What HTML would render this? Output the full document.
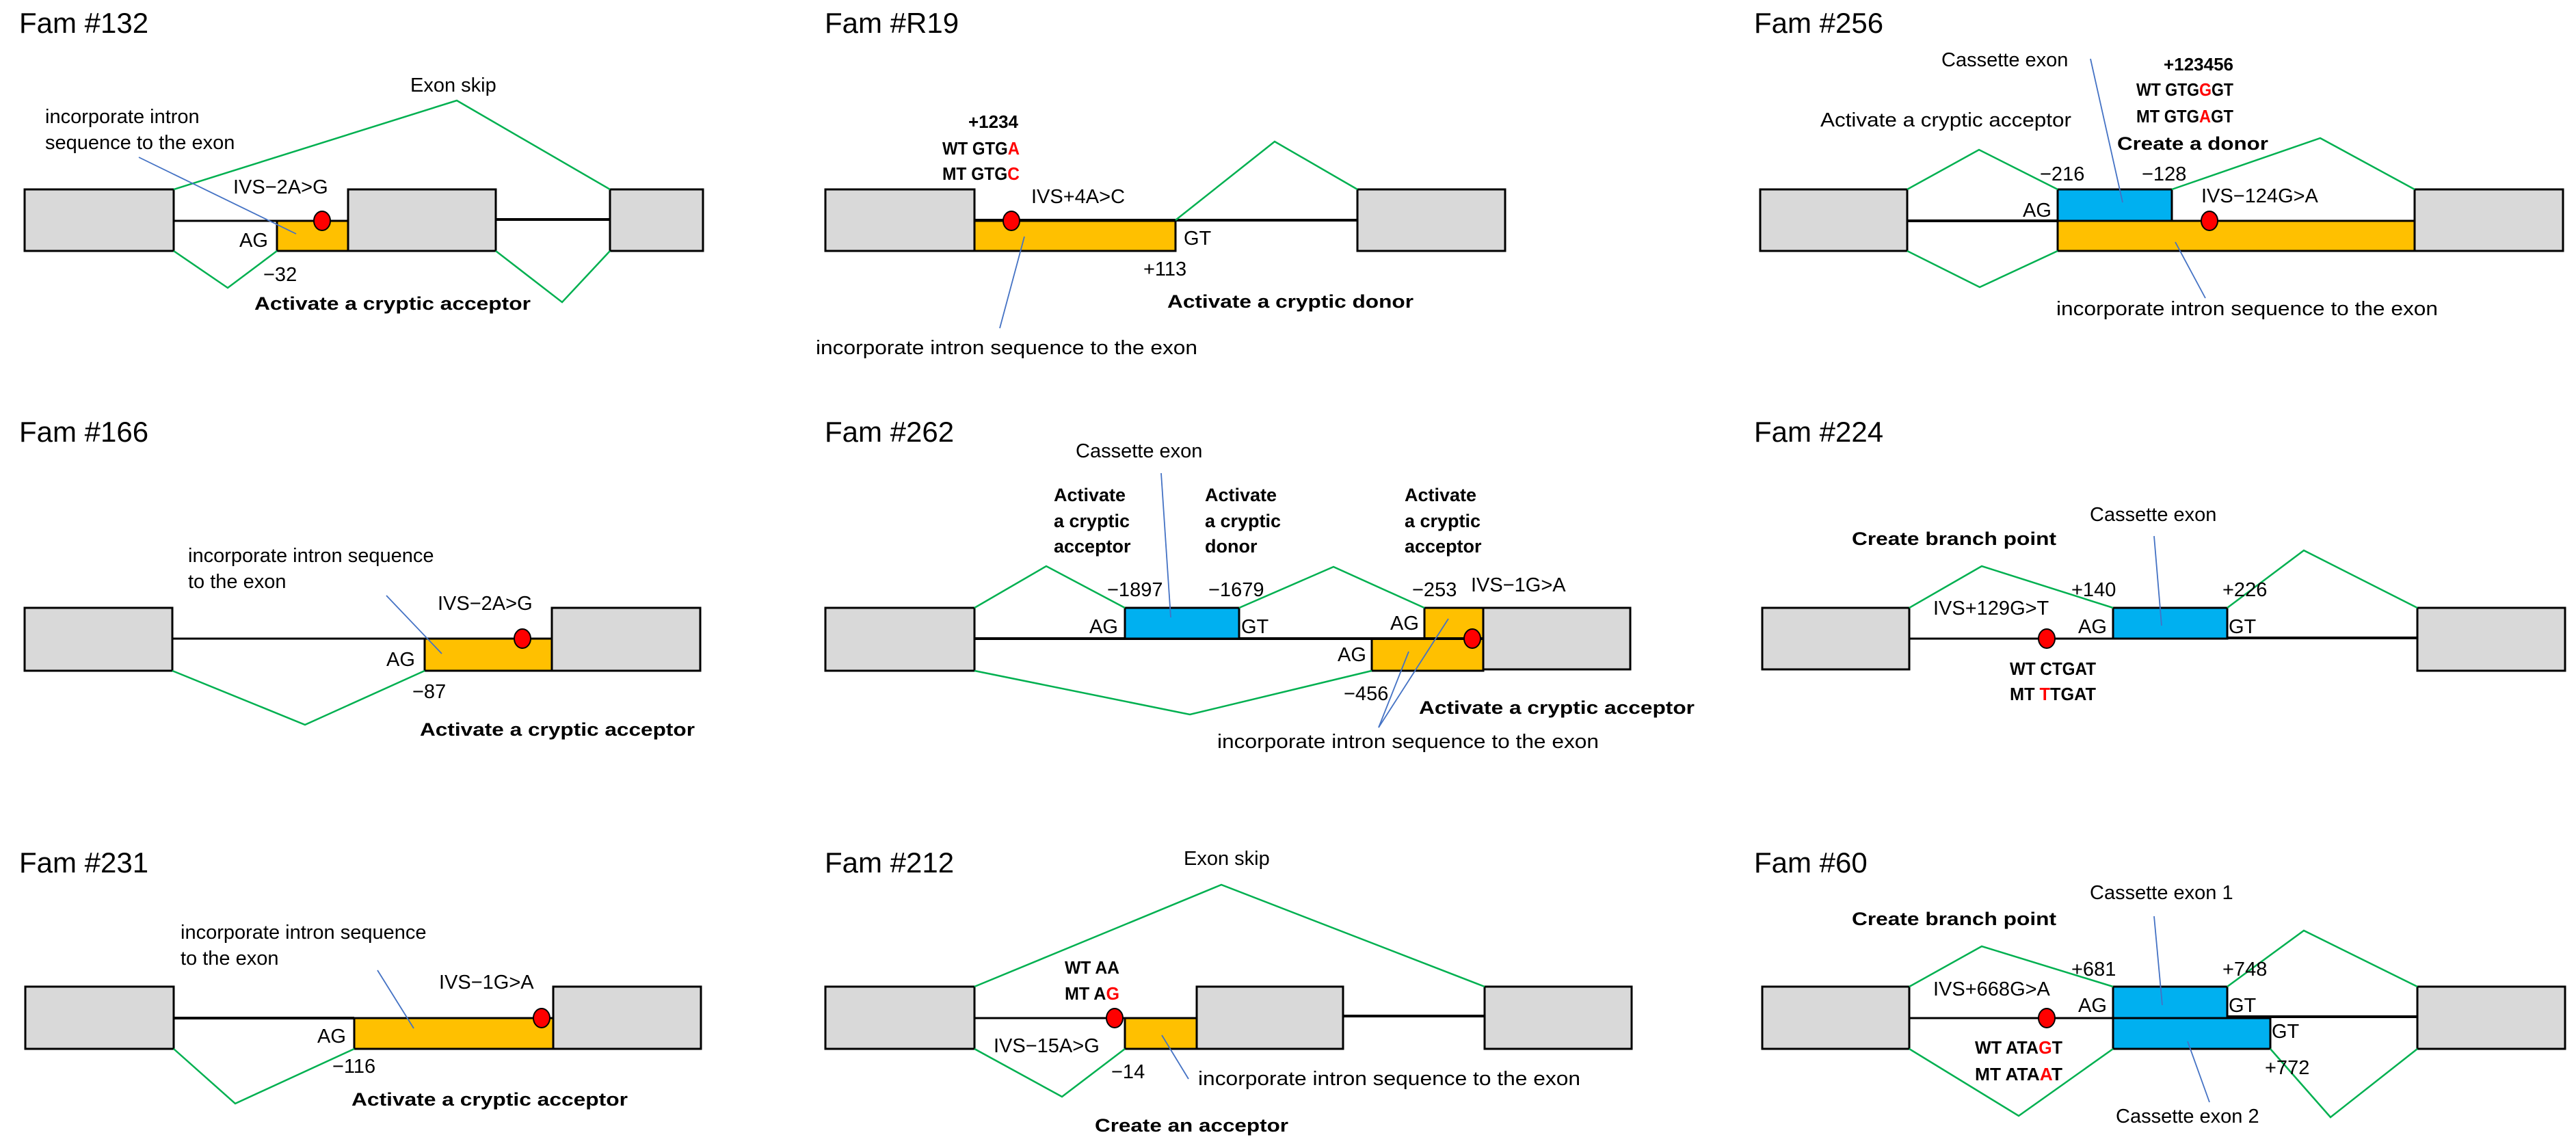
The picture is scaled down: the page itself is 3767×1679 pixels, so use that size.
<!DOCTYPE html>
<html><head><meta charset="utf-8"><style>
html,body{margin:0;padding:0;background:#fff;}
svg{display:block;}
text{font-family:"Liberation Sans",Arial,sans-serif;font-size:29px;fill:#000;}
.t{font-size:42px;}
.b{font-weight:bold;font-size:27px;}
.s{font-weight:bold;font-size:26px;}
.r{fill:#ff0000;}
.ex{fill:#d9d9d9;stroke:#000;stroke-width:3;}
.or{fill:#ffc000;stroke:#000;stroke-width:3;}
.bl{fill:#00b0f0;stroke:#000;stroke-width:3;}
.in{stroke:#000;stroke-width:3;fill:none;}
.g{stroke:#00b050;stroke-width:2.5;fill:none;}
.ld{stroke:#4472c4;stroke-width:1.8;fill:none;}
.dot{fill:#ff0000;stroke:#000;stroke-width:2;}
</style></head><body>
<svg width="3767" height="1679" viewBox="0 0 3767 1679" xmlns="http://www.w3.org/2000/svg">

<!-- Panel 1: Fam #132 -->
<text class="t" x="28" y="48">Fam #132</text>
<line class="in" x1="254" y1="323" x2="405" y2="323"/>
<line class="in" x1="725" y1="321" x2="892" y2="321" style="stroke-width:4"/>
<rect class="ex" x="36" y="277" width="218" height="90"/>
<rect class="or" x="405" y="323" width="104" height="44"/>
<rect class="ex" x="509" y="277" width="216" height="90"/>
<rect class="ex" x="892" y="277" width="136" height="90"/>
<ellipse class="dot" cx="471" cy="323" rx="12" ry="14"/>
<polyline class="g" points="254,277 668,147 892,277"/>
<polyline class="g" points="254,367 333,421 405,367"/>
<polyline class="g" points="725,367 822,442 892,367"/>
<text x="600" y="134">Exon skip</text>
<text x="66" y="180">incorporate intron</text>
<text x="66" y="218">sequence to the  exon</text>
<line class="ld" x1="203" y1="230" x2="433" y2="342"/>
<text x="341" y="283">IVS−2A&gt;G</text>
<text x="350" y="361">AG</text>
<text x="385" y="411">−32</text>
<text class="b" x="372" y="453" textLength="404" lengthAdjust="spacingAndGlyphs">Activate a cryptic acceptor</text>

<!-- Panel 2: Fam #R19 -->
<text class="t" x="1206" y="48">Fam #R19</text>
<line class="in" x1="1719" y1="322" x2="1985" y2="322" style="stroke-width:4"/>
<rect class="ex" x="1207" y="277" width="218" height="90"/>
<rect class="or" x="1425" y="323" width="294" height="44"/>
<line class="in" x1="1425" y1="322" x2="1719" y2="322" style="stroke-width:4"/>
<rect class="ex" x="1985" y="277" width="216" height="90"/>
<ellipse class="dot" cx="1479" cy="323" rx="12" ry="14"/>
<polyline class="g" points="1719,322 1864,207 1985,277"/>
<text class="s" x="1489" y="187" text-anchor="end">+1234</text>
<text class="s" x="1378" y="226" textLength="113" lengthAdjust="spacingAndGlyphs">WT  GTG<tspan class="r">A</tspan></text>
<text class="s" x="1378" y="263" textLength="113" lengthAdjust="spacingAndGlyphs">MT  GTG<tspan class="r">C</tspan></text>
<text x="1508" y="297">IVS+4A&gt;C</text>
<text x="1731" y="358">GT</text>
<text x="1672" y="403">+113</text>
<text class="b" x="1707" y="450" textLength="360" lengthAdjust="spacingAndGlyphs">Activate a cryptic donor</text>
<line class="ld" x1="1498" y1="346" x2="1462" y2="480"/>
<text x="1193" y="518" textLength="558" lengthAdjust="spacingAndGlyphs">incorporate intron sequence to the exon</text>

<!-- Panel 3: Fam #256 -->
<text class="t" x="2565" y="48">Fam #256</text>
<line class="in" x1="2789" y1="323" x2="3009" y2="323" style="stroke-width:4"/>
<rect class="ex" x="2574" y="277" width="215" height="90"/>
<rect class="or" x="3009" y="323" width="522" height="44"/>
<rect class="bl" x="3009" y="277" width="167" height="46"/>
<rect class="ex" x="3531" y="277" width="217" height="90"/>
<ellipse class="dot" cx="3231" cy="323" rx="12" ry="14"/>
<polyline class="g" points="2789,277 2894,219 3009,277"/>
<polyline class="g" points="3176,277 3393,202 3531,277"/>
<polyline class="g" points="2789,367 2895,420 3009,367"/>
<text x="2839" y="97">Cassette exon</text>
<text class="s" x="3266" y="103" text-anchor="end">+123456</text>
<text class="s" x="3124" y="140" textLength="142" lengthAdjust="spacingAndGlyphs">WT  GTG<tspan class="r">G</tspan>GT</text>
<text class="s" x="3124" y="179" textLength="142" lengthAdjust="spacingAndGlyphs">MT  GTG<tspan class="r">A</tspan>GT</text>
<text x="2662" y="185" textLength="367" lengthAdjust="spacingAndGlyphs">Activate a cryptic acceptor</text>
<text class="b" x="3096" y="219" textLength="221" lengthAdjust="spacingAndGlyphs">Create a donor</text>
<text x="2983" y="264">−216</text>
<text x="3132" y="264">−128</text>
<text x="2958" y="317">AG</text>
<text x="3219" y="296">IVS−124G&gt;A</text>
<line class="ld" x1="3057" y1="86" x2="3104" y2="296"/>
<line class="ld" x1="3181" y1="354" x2="3225" y2="436"/>
<text x="3007" y="461" textLength="558" lengthAdjust="spacingAndGlyphs">incorporate intron sequence to the exon</text>

<!-- Panel 4: Fam #166 -->
<text class="t" x="28" y="646">Fam #166</text>
<line class="in" x1="252" y1="934" x2="621" y2="934"/>
<rect class="ex" x="36" y="889" width="216" height="92"/>
<rect class="or" x="621" y="934" width="186" height="47"/>
<rect class="ex" x="807" y="889" width="217" height="92"/>
<ellipse class="dot" cx="764" cy="934" rx="12" ry="14"/>
<polyline class="g" points="252,981 446,1060 621,981"/>
<text x="275" y="822">incorporate intron sequence</text>
<text x="275" y="860">to the exon</text>
<line class="ld" x1="565" y1="871" x2="646" y2="956"/>
<text x="640" y="892">IVS−2A&gt;G</text>
<text x="565" y="974">AG</text>
<text x="603" y="1021">−87</text>
<text class="b" x="614" y="1076" textLength="402" lengthAdjust="spacingAndGlyphs">Activate a cryptic acceptor</text>

<!-- Panel 5: Fam #262 -->
<text class="t" x="1206" y="646">Fam #262</text>
<line class="in" x1="1425" y1="934" x2="2006" y2="934" style="stroke-width:4"/>
<rect class="ex" x="1207" y="889" width="218" height="92"/>
<rect class="bl" x="1645" y="889" width="167" height="45"/>
<rect class="ex" x="2169" y="889" width="215" height="90"/>
<rect class="or" x="2006" y="934" width="163" height="47"/>
<rect class="or" x="2083" y="889" width="86" height="45"/>
<line class="in" x1="2006" y1="934" x2="2169" y2="934" style="stroke-width:4"/>
<ellipse class="dot" cx="2153" cy="934" rx="12" ry="14"/>
<polyline class="g" points="1425,889 1530,828 1645,889"/>
<polyline class="g" points="1812,889 1950,829 2083,889"/>
<polyline class="g" points="1425,981 1740,1045 2006,981"/>
<text x="1573" y="669">Cassette exon</text>
<line class="ld" x1="1698" y1="692" x2="1712" y2="903"/>
<text class="b" x="1541" y="733">Activate</text>
<text class="b" x="1541" y="771">a cryptic</text>
<text class="b" x="1541" y="808">acceptor</text>
<text class="b" x="1762" y="733">Activate</text>
<text class="b" x="1762" y="771">a cryptic</text>
<text class="b" x="1762" y="808">donor</text>
<text class="b" x="2054" y="733">Activate</text>
<text class="b" x="2054" y="771">a cryptic</text>
<text class="b" x="2054" y="808">acceptor</text>
<text x="1619" y="872">−1897</text>
<text x="1767" y="872">−1679</text>
<text x="2065" y="872">−253</text>
<text x="2151" y="865">IVS−1G&gt;A</text>
<text x="1593" y="926">AG</text>
<text x="1815" y="926">GT</text>
<text x="2033" y="921">AG</text>
<text x="1956" y="967">AG</text>
<text x="1965" y="1024">−456</text>
<text class="b" x="2075" y="1044" textLength="403" lengthAdjust="spacingAndGlyphs">Activate a cryptic acceptor</text>
<line class="ld" x1="2016" y1="1064" x2="2060" y2="953"/>
<line class="ld" x1="2016" y1="1064" x2="2118" y2="905"/>
<text x="1780" y="1094" textLength="558" lengthAdjust="spacingAndGlyphs">incorporate intron sequence to the exon</text>

<!-- Panel 6: Fam #224 -->
<text class="t" x="2565" y="646">Fam #224</text>
<line class="in" x1="2792" y1="934" x2="3090" y2="934"/>
<line class="in" x1="3257" y1="933" x2="3535" y2="933" style="stroke-width:4"/>
<rect class="ex" x="2577" y="889" width="215" height="90"/>
<rect class="bl" x="3090" y="889" width="167" height="45"/>
<rect class="ex" x="3535" y="889" width="216" height="92"/>
<ellipse class="dot" cx="2993" cy="934" rx="12" ry="14"/>
<polyline class="g" points="2792,889 2898,828 3090,889"/>
<polyline class="g" points="3257,889 3369,805 3535,889"/>
<text x="3056" y="762">Cassette exon</text>
<line class="ld" x1="3150" y1="784" x2="3161" y2="915"/>
<text class="b" x="2708" y="797" textLength="299" lengthAdjust="spacingAndGlyphs">Create branch point</text>
<text x="3029" y="872">+140</text>
<text x="3250" y="872">+226</text>
<text x="2827" y="899">IVS+129G&gt;T</text>
<text x="3039" y="926">AG</text>
<text x="3259" y="926">GT</text>
<text class="s" x="2939" y="987" textLength="126" lengthAdjust="spacingAndGlyphs">WT  CTGAT</text>
<text class="s" x="2939" y="1024" textLength="126" lengthAdjust="spacingAndGlyphs">MT  <tspan class="r">T</tspan>TGAT</text>

<!-- Panel 7: Fam #231 -->
<text class="t" x="28" y="1276">Fam #231</text>
<line class="in" x1="254" y1="1489" x2="518" y2="1489" style="stroke-width:4"/>
<rect class="ex" x="37" y="1443" width="217" height="91"/>
<rect class="or" x="518" y="1489" width="291" height="45"/>
<rect class="ex" x="809" y="1443" width="216" height="91"/>
<ellipse class="dot" cx="792" cy="1489" rx="12" ry="14"/>
<polyline class="g" points="254,1534 344,1614 518,1534"/>
<text x="264" y="1373">incorporate intron sequence</text>
<text x="264" y="1411">to the exon</text>
<line class="ld" x1="552" y1="1419" x2="605" y2="1504"/>
<text x="642" y="1446">IVS−1G&gt;A</text>
<text x="464" y="1525">AG</text>
<text x="486" y="1569">−116</text>
<text class="b" x="514" y="1617" textLength="404" lengthAdjust="spacingAndGlyphs">Activate a cryptic acceptor</text>

<!-- Panel 8: Fam #212 -->
<text class="t" x="1206" y="1276">Fam #212</text>
<line class="in" x1="1425" y1="1489" x2="1645" y2="1489"/>
<line class="in" x1="1964" y1="1486" x2="2171" y2="1486" style="stroke-width:4"/>
<rect class="ex" x="1207" y="1443" width="218" height="91"/>
<rect class="or" x="1645" y="1489" width="105" height="45"/>
<rect class="ex" x="1750" y="1443" width="214" height="91"/>
<rect class="ex" x="2171" y="1443" width="215" height="91"/>
<ellipse class="dot" cx="1630" cy="1489" rx="12" ry="14"/>
<polyline class="g" points="1425,1443 1786,1294 2171,1443"/>
<polyline class="g" points="1425,1534 1553,1604 1645,1534"/>
<text x="1731" y="1265">Exon skip</text>
<text class="s" x="1557" y="1424" textLength="80" lengthAdjust="spacingAndGlyphs">WT  AA</text>
<text class="s" x="1557" y="1462" textLength="80" lengthAdjust="spacingAndGlyphs">MT  A<tspan class="r">G</tspan></text>
<text x="1453" y="1539">IVS−15A&gt;G</text>
<text x="1625" y="1577">−14</text>
<line class="ld" x1="1699" y1="1514" x2="1738" y2="1578"/>
<text x="1752" y="1587" textLength="559" lengthAdjust="spacingAndGlyphs">incorporate intron sequence to the exon</text>
<text class="b" x="1601" y="1655" textLength="283" lengthAdjust="spacingAndGlyphs">Create an acceptor</text>

<!-- Panel 9: Fam #60 -->
<text class="t" x="2565" y="1276">Fam #60</text>
<line class="in" x1="2792" y1="1489" x2="3090" y2="1489"/>
<line class="in" x1="3257" y1="1487" x2="3535" y2="1487" style="stroke-width:4"/>
<rect class="ex" x="2577" y="1443" width="215" height="91"/>
<rect class="bl" x="3090" y="1489" width="230" height="45"/>
<rect class="bl" x="3090" y="1443" width="167" height="46"/>
<rect class="ex" x="3535" y="1443" width="216" height="91"/>
<ellipse class="dot" cx="2993" cy="1489" rx="12" ry="14"/>
<polyline class="g" points="2792,1443 2898,1384 3090,1443"/>
<polyline class="g" points="3257,1443 3369,1361 3535,1443"/>
<polyline class="g" points="2792,1534 2952,1632 3090,1534"/>
<polyline class="g" points="3320,1534 3408,1634 3535,1534"/>
<text x="3056" y="1315">Cassette exon 1</text>
<line class="ld" x1="3150" y1="1340" x2="3162" y2="1470"/>
<text class="b" x="2708" y="1353" textLength="299" lengthAdjust="spacingAndGlyphs">Create branch point</text>
<text x="3029" y="1427">+681</text>
<text x="3250" y="1427">+748</text>
<text x="2827" y="1456">IVS+668G&gt;A</text>
<text x="3039" y="1480">AG</text>
<text x="3259" y="1480">GT</text>
<text x="3322" y="1518">GT</text>
<text class="s" x="2888" y="1541" textLength="128" lengthAdjust="spacingAndGlyphs">WT  ATA<tspan class="r">G</tspan>T</text>
<text class="s" x="2888" y="1580" textLength="128" lengthAdjust="spacingAndGlyphs">MT  ATA<tspan class="r">A</tspan>T</text>
<text x="3312" y="1571">+772</text>
<line class="ld" x1="3199" y1="1523" x2="3231" y2="1612"/>
<text x="3094" y="1642">Cassette exon 2</text>
</svg>
</body></html>
